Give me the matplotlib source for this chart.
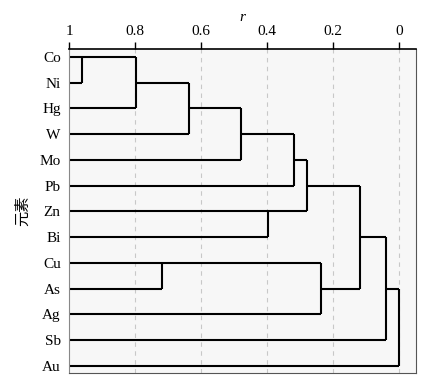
import matplotlib
matplotlib.use('Agg')
import matplotlib.pyplot as plt

# elements, top to bottom
elements = ['Co', 'Ni', 'Hg', 'W', 'Mo', 'Pb', 'Zn', 'Bi', 'Cu', 'As', 'Ag', 'Sb', 'Au']

# merges: row of first cluster, row of second cluster, correlation level r
merge_top = [0, 0, 1, 2, 3, 6, 4, 8, 8, 5, 7, 9]
merge_bottom = [1, 2, 3, 4, 5, 7, 6, 9, 10, 9, 11, 12]
merge_r = [0.96, 0.797, 0.637, 0.478, 0.318, 0.398, 0.279, 0.717, 0.236, 0.118, 0.039, 0.0]

x_ticks = [1, 0.8, 0.6, 0.4, 0.2, 0]
x_ticklabels = ['1', '0.8', '0.6', '0.4', '0.2', '0']

plt.rcParams['font.family'] = ['Liberation Serif', 'Noto Sans CJK SC']

fig = plt.figure(figsize=(4.27, 3.83), dpi=100)
ax = fig.add_axes([0.1616, 0.026, 0.8124, 0.846])
ax.set_facecolor('#f7f7f7')

# level where each row's current line starts (leaves start at r = 1)
start = {i: 1.0 for i in range(len(elements))}
for a, b, r in zip(merge_top, merge_bottom, merge_r):
    # horizontal lines of both clusters up to the merge level
    for row in (a, b):
        ax.plot([start[row], r], [row, row], color='black', lw=1.5, solid_capstyle='butt')
    # vertical connector
    ax.plot([r, r], [a, b], color='black', lw=1.5, solid_capstyle='butt')
    out_row = (a + b) // 2
    start[out_row] = r

for t in x_ticks[1:]:
    ax.axvline(t, color='#c8c8c8', lw=0.8, ls=(0, (4, 4)), zorder=0)

ax.set_xlim(1, -0.052)
ax.set_ylim(12.28, -0.31)

ax.xaxis.tick_top()
ax.xaxis.set_label_position('top')
ax.set_xticks(x_ticks)
ax.set_xticklabels(x_ticklabels, fontsize=11)
ax.tick_params(axis='x', direction='out', length=5, width=1, pad=3)
ax.set_xlabel('r', fontsize=11, style='italic', labelpad=3)

ax.set_yticks(range(len(elements)))
ax.set_yticklabels(elements, fontsize=11)
ax.tick_params(axis='y', length=0, pad=6)
ax.set_ylabel('元素', fontsize=11, family=['Noto Sans CJK SC'], labelpad=6)

ax.spines['top'].set_color('black')
ax.spines['top'].set_linewidth(1.2)
ax.spines['left'].set_color('#888888')
ax.spines['left'].set_linewidth(0.8)
ax.spines['right'].set_color('#555555')
ax.spines['bottom'].set_color('#555555')

plt.savefig('out.png', dpi=100)
